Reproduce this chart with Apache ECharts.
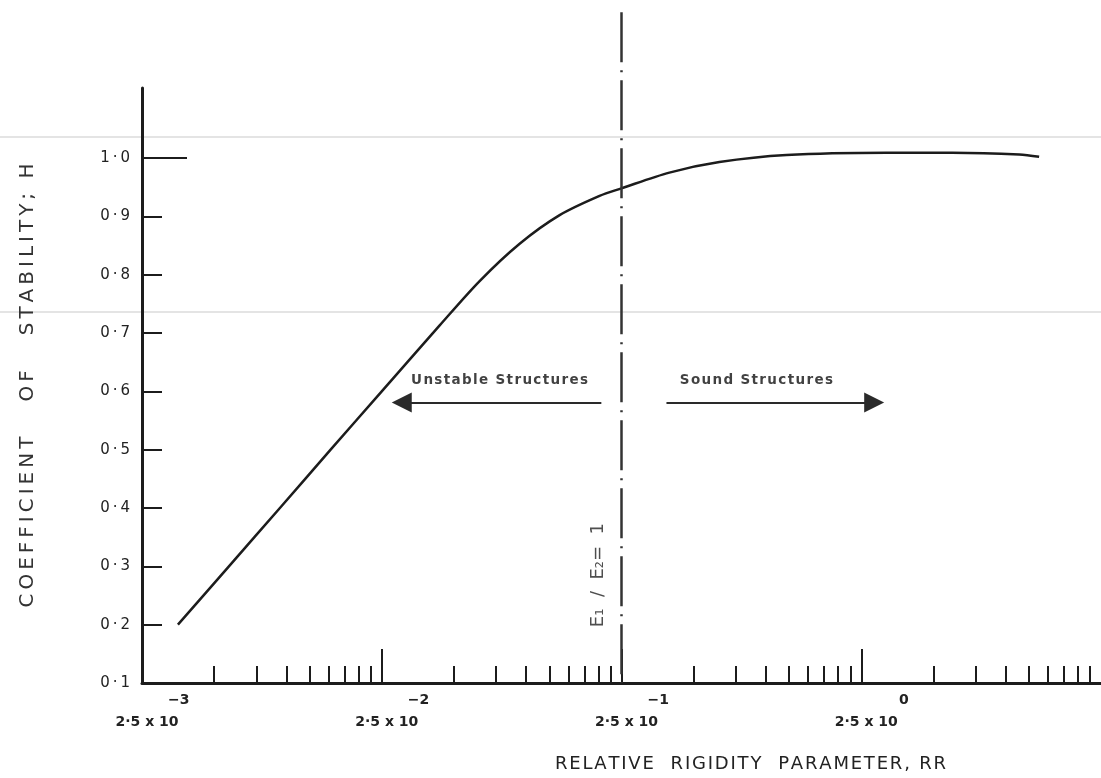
<!DOCTYPE html>
<html>
<head>
<meta charset="utf-8">
<style>
  html, body { margin: 0; padding: 0; background: #fff; }
  #chart { width: 1101px; height: 778px; }
</style>
<script src="https://cdn.jsdelivr.net/npm/echarts@6/dist/echarts.min.js"></script>
</head>
<body>
<div id="chart"></div>
<script>
// curve: relative rigidity parameter RR -> coefficient of stability H
const rrValues = [0.00353, 0.00576, 0.0094, 0.0153, 0.025, 0.0436, 0.064, 0.094, 0.138, 0.2025, 0.25, 0.396, 0.64, 1.22, 3.18, 5.98, 11.4, 13.8];
const hValues = [0.2, 0.3, 0.4, 0.5, 0.6, 0.713, 0.789, 0.853, 0.902, 0.935, 0.948, 0.975, 0.993, 1.005, 1.009, 1.009, 1.006, 1.002];

// x axis (log) ticks
const xMin = 0.0025, xMax = 25;
const xLabelTicks = [0.0025, 0.025, 0.25, 2.5];
const xMajorTicks = [0.025, 0.25, 2.5];
const minorMultipliers = [2, 3, 4, 5, 6, 7, 8, 9];

// y axis ticks
const yMin = 0.1, yMax = 1.12;
const yLabelTicks = [0.1, 0.2, 0.3, 0.4, 0.5, 0.6, 0.7, 0.8, 0.9, 1.0];
const yShortTicks = [0.2, 0.3, 0.4, 0.5, 0.6, 0.7, 0.8, 0.9];
const yLongTicks = [1.0];

// E1/E2 = 1 divider and the two arrows
const dividerRR = 0.25;
const dividerH = [1.25, 0.1];
const unstableArrow = [[0.206, 0.581], [0.0303, 0.581]];
const soundArrow = [[0.385, 0.581], [2.83, 0.581]];
const notes = [
  { value: [0.0775, 0.619], name: 'Unstable Structures' },
  { value: [0.913, 0.619], name: 'Sound Structures' }
];
const dividerNote = [{ value: [0.2, 0.285], name: 'E₁  /  E₂=  1' }];

const ink = '#1c1c1c';
const textInk = '#222';
const font = 'DejaVu Sans';

const spaced = (s, sp) => s.split('').join(sp);

const xMinorTicks = [];
xLabelTicks.forEach(base => {
  minorMultipliers.forEach(k => xMinorTicks.push(base * k));
});

const chart = echarts.init(document.getElementById('chart'));

chart.setOption({
  backgroundColor: '#fff',
  animation: false,
  grid: { left: 142, right: 0, top: 88, bottom: 94, containLabel: false },
  // faint scan streaks across the sheet
  graphic: [
    { type: 'line', z: -10, shape: { x1: 0, y1: 137, x2: 1101, y2: 137 }, style: { stroke: '#e4e4e4', lineWidth: 2 } },
    { type: 'line', z: -10, shape: { x1: 0, y1: 312, x2: 1101, y2: 312 }, style: { stroke: '#e4e4e4', lineWidth: 2 } }
  ],
  xAxis: [
    {
      type: 'log',
      logBase: 10,
      min: xMin,
      max: xMax,
      position: 'bottom',
      name: spaced('RELATIVE  RIGIDITY  PARAMETER, RR', '\u200A'),
      nameLocation: 'middle',
      nameGap: 72,
      nameTextStyle: {
        fontFamily: font, fontSize: 18, color: textInk, padding: [0, 0, 0, 258]
      },
      axisLine: { onZero: false, lineStyle: { color: ink, width: 3 } },
      axisTick: {
        inside: true, length: 17, customValues: xMinorTicks,
        lineStyle: { color: ink, width: 2 }
      },
      minorTick: { show: false },
      splitLine: { show: false },
      axisLabel: {
        customValues: xLabelTicks,
        margin: 9,
        padding: [0, 0, 0, 21],
        formatter: v => {
          const e = Math.round(Math.log10(v / 2.5));
          const exp = e < 0 ? '−' + (-e) : String(e);
          return '{e|' + exp + '}\n{b|2·5 x 10}';
        },
        rich: {
          b: { fontFamily: font, fontWeight: 'bold', fontSize: 14, color: textInk, lineHeight: 28, padding: [0, 11, 0, 0] },
          e: { fontFamily: font, fontWeight: 'bold', fontSize: 14, color: textInk, lineHeight: 16, align: 'right' }
        }
      }
    },
    {
      type: 'log',
      logBase: 10,
      min: xMin,
      max: xMax,
      position: 'bottom',
      axisLine: { show: false, onZero: false },
      axisTick: {
        inside: true, length: 34, customValues: xMajorTicks,
        lineStyle: { color: ink, width: 2 }
      },
      axisLabel: { show: false },
      splitLine: { show: false }
    }
  ],
  yAxis: [
    {
      type: 'value',
      min: yMin,
      max: yMax,
      position: 'left',
      name: spaced('COEFFICIENT   OF   STABILITY; H', '\u2009'),
      nameLocation: 'middle',
      nameGap: 104,
      nameTextStyle: { fontFamily: font, fontSize: 20, color: '#333' },
      axisLine: { onZero: false, lineStyle: { color: ink, width: 3 } },
      axisTick: {
        inside: true, length: 20, customValues: yShortTicks,
        lineStyle: { color: ink, width: 2 }
      },
      splitLine: { show: false },
      axisLabel: {
        customValues: yLabelTicks,
        margin: 12,
        fontFamily: font,
        fontSize: 15,
        color: textInk,
        formatter: v => v.toFixed(1).replace('.', '\u2009·\u2009')
      }
    },
    {
      type: 'value',
      min: yMin,
      max: yMax,
      position: 'left',
      axisLine: { show: false, onZero: false },
      axisTick: {
        inside: true, length: 45, customValues: yLongTicks,
        lineStyle: { color: ink, width: 2 }
      },
      axisLabel: { show: false },
      splitLine: { show: false }
    }
  ],
  series: [
    {
      name: 'H',
      type: 'line',
      data: rrValues.map((x, i) => [x, hValues[i]]),
      smooth: 0.3,
      showSymbol: false,
      lineStyle: { color: ink, width: 2.5 }
    },
    {
      name: 'E1/E2 = 1',
      type: 'line',
      data: dividerH.map(h => [dividerRR, h]),
      clip: false,
      showSymbol: false,
      lineStyle: { color: '#333', width: 2.5, type: [50, 8, 2, 8] }
    },
    {
      name: 'arrows',
      type: 'line',
      data: [],
      markLine: {
        silent: true,
        symbol: ['none', 'triangle'],
        symbolSize: [20, 20],
        label: { show: false },
        lineStyle: { color: '#2a2a2a', width: 2, type: 'solid' },
        itemStyle: { color: '#2a2a2a' },
        data: [
          [{ coord: unstableArrow[0] }, { coord: unstableArrow[1] }],
          [{ coord: soundArrow[0] }, { coord: soundArrow[1] }]
        ]
      }
    },
    {
      name: 'notes',
      type: 'scatter',
      data: notes.map(n => ({ value: n.value, name: spaced(n.name, '\u200A') })),
      symbolSize: 0,
      label: {
        show: true, position: 'inside', formatter: '{b}',
        fontFamily: font, fontWeight: 'bold', fontSize: 13.5, color: '#111'
      }
    },
    {
      name: 'divider note',
      type: 'scatter',
      data: dividerNote,
      symbolSize: 0,
      label: {
        show: true, position: 'inside', formatter: '{b}', rotate: 90,
        fontFamily: font, fontSize: 18, color: textInk
      }
    }
  ]
});
</script>
</body>
</html>
